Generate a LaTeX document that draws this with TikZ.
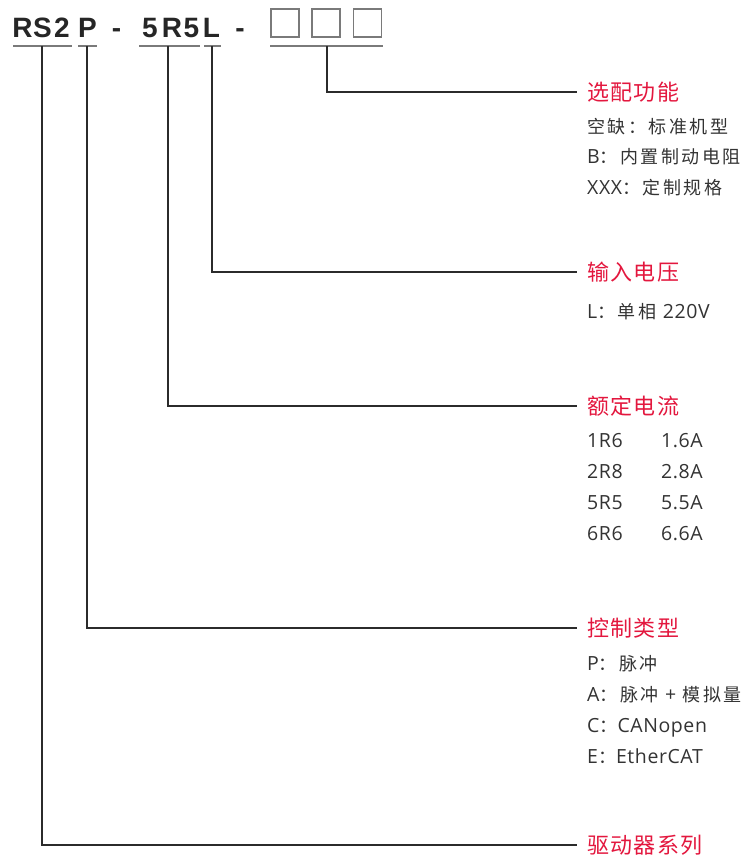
\documentclass[tikz,border=0pt]{standalone}
\usepackage{fontspec}
\newfontfamily\cjksub{Noto Sans CJK SC}[LetterSpace=14]
\newfontfamily\cjkhead{Noto Sans CJK SC}[LetterSpace=6]
\newfontfamily\latf{Open Sans}[LetterSpace=3]
\newfontfamily\ttl{Liberation Sans}
\newcommand\lt[1]{{\latf\fontsize{19.5}{18}\selectfont #1}}
\definecolor{hred}{HTML}{E3173E}
\definecolor{txt}{HTML}{333333}
\definecolor{ln}{HTML}{2B2B2B}
\definecolor{ul}{HTML}{7A7A7A}
\begin{document}
\begin{tikzpicture}[x=1pt,y=-1pt,
 tch/.style={anchor=base,inner sep=0,font=\ttl\bfseries\fontsize{28}{28}\selectfont,text=black!85},
 head/.style={anchor=base west,inner sep=0,font=\cjkhead\fontsize{22}{22}\selectfont,text=hred},
 sub/.style={anchor=base west,inner sep=0,font=\cjksub\fontsize{18}{18}\selectfont,text=txt},
 conn/.style={draw=ln,line width=1.1pt},
 uline/.style={draw=ul,line width=1.6pt},
 cbox/.style={draw=ul,line width=1.3pt,minimum size=28pt,inner sep=0}]
\useasboundingbox (0,0) rectangle (750,860);
% title characters
\node[tch] (t1) at (22.5,37) {R};
\node[tch] (t2) at (42.5,37) {S};
\node[tch] (t3) at (62,37) {2};
\node[tch] (t4) at (87.5,37) {P};
\node[tch] (t5) at (116.5,37) {-};
\node[tch] (t6) at (150,37) {5};
\node[tch] (t7) at (172,37) {R};
\node[tch] (t8) at (191.5,37) {5};
\node[tch] (t9) at (211.5,37) {L};
\node[tch] (t10) at (240,37) {-};
\node[cbox] (b1) at (285,23) {};
\node[cbox] (b2) at (326,23) {};
\node[cbox] (b3) at (367.5,23) {};
% underlines
\coordinate (u1a) at (13,46); \coordinate (u1b) at (72,46);
\coordinate (u2a) at (78,46); \coordinate (u2b) at (97,46);
\coordinate (u3a) at (139,46); \coordinate (u3b) at (200,46);
\coordinate (u4a) at (204,46); \coordinate (u4b) at (221,46);
\coordinate (u5a) at (270,46); \coordinate (u5b) at (383,46);
\draw[uline] (u1a) -- (u1b);
\draw[uline] (u2a) -- (u2b);
\draw[uline] (u3a) -- (u3b);
\draw[uline] (u4a) -- (u4b);
\draw[uline] (u5a) -- (u5b);
\coordinate (v1) at (42,46);
\coordinate (v2) at (87,46);
\coordinate (v3) at (168,46);
\coordinate (v4) at (212,46);
\coordinate (v5) at (327,46);
% headings
\node[head] (h5) at (587,100) {选配功能};
\node[head] (h4) at (587,280) {输入电压};
\node[head] (h3) at (587,414) {额定电流};
\node[head] (h2) at (587,636) {控制类型};
\node[head] (h1) at (587,853) {驱动器系列};
\coordinate (e5) at (577,92);
\coordinate (e4) at (577,272);
\coordinate (e3) at (577,406);
\coordinate (e2) at (577,628);
\coordinate (e1) at (577,845);
\draw[conn] (v5) |- (e5);
\draw[conn] (v4) |- (e4);
\draw[conn] (v3) |- (e3);
\draw[conn] (v2) |- (e2);
\draw[conn] (v1) |- (e1);
% items
\node[sub] (s51) at (587,133) {空缺：标准机型};
\node[sub] (s52) at (587,163) {\lt{B}：内置制动电阻};
\node[sub] (s53) at (587,194) {\lt{XXX}：定制规格};
\node[sub] (s41) at (587,318) {\lt{L}：单相 \lt{220V}};
\node[sub] (s31) at (587,447) {\lt{1R6}};
\node[sub] (s32) at (587,478) {\lt{2R8}};
\node[sub] (s33) at (587,509) {\lt{5R5}};
\node[sub] (s34) at (587,540) {\lt{6R6}};
\node[sub] (r31) at (661,447) {\lt{1.6A}};
\node[sub] (r32) at (661,478) {\lt{2.8A}};
\node[sub] (r33) at (661,509) {\lt{5.5A}};
\node[sub] (r34) at (661,540) {\lt{6.6A}};
\node[sub] (s21) at (587,670) {\lt{P}：脉冲};
\node[sub] (s22) at (587,701) {\lt{A}：脉冲 \lt{+} 模拟量};
\node[sub] (s23) at (587,732) {\lt{C}：\lt{CANopen}};
\node[sub] (s24) at (587,763) {\lt{E}：\lt{EtherCAT}};
\end{tikzpicture}
\end{document}
